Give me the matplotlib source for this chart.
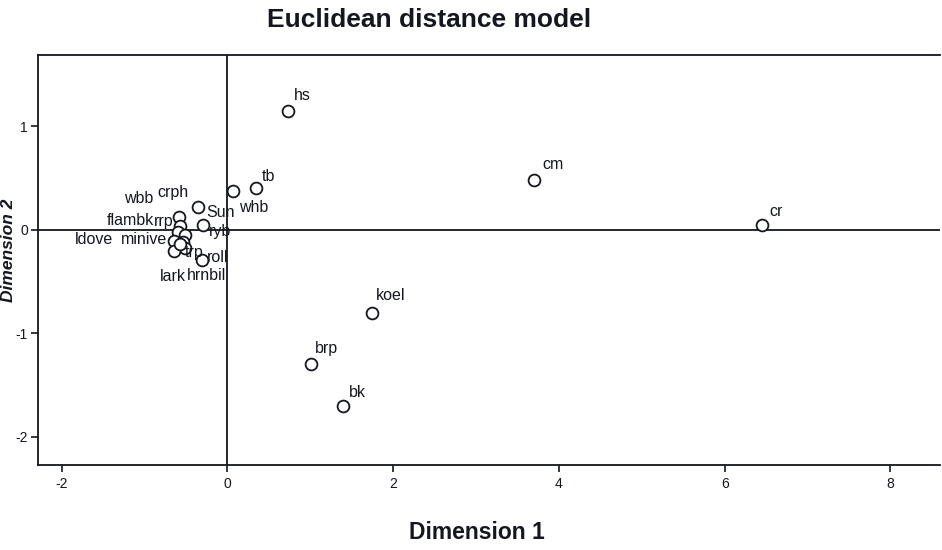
import matplotlib
matplotlib.use("Agg")
import matplotlib.pyplot as plt

# Stimulus coordinates from the Euclidean distance (MDS) model
labels = ["hs", "cm", "cr", "koel", "brp", "bk", "tb", "whb", "Sun", "ryb",
          "roll", "crph", "wbb", "flambk", "rrp", "ldove", "minive", "trp",
          "lark", "hrnbil"]
dim1 = [0.73, 3.70, 6.45, 1.75, 1.01, 1.40, 0.35, 0.07, -0.35, -0.30,
        -0.31, -0.59, -0.57, -0.60, -0.51, -0.64, -0.54, -0.51, -0.65, -0.57]
dim2 = [1.15, 0.48, 0.05, -0.80, -1.30, -1.70, 0.40, 0.38, 0.22, 0.05,
        -0.29, 0.12, 0.04, -0.02, -0.05, -0.11, -0.12, -0.18, -0.20, -0.14]

x_ticks = [-2, 0, 2, 4, 6, 8]
y_ticks = [-2, -1, 0, 1]

# Label placement (pixel offsets from each point) to keep the crowded cluster readable
label_offsets = {
    "hs": (6, 15), "cm": (8, 16), "cr": (7, 13), "koel": (3, 17),
    "brp": (4, 16), "bk": (5, 13), "tb": (5, 12), "whb": (6, -17),
    "Sun": (8, -5), "ryb": (6, -7), "roll": (5, 2), "crph": (-21, 25),
    "wbb": (-56, 27), "flambk": (-71, 11), "rrp": (-31, 14),
    "ldove": (-100, 2), "minive": (-62, 3), "trp": (0, -4),
    "lark": (-14, -26), "hrnbil": (7, -31),
}

ink = "#14171f"
font = "Liberation Sans"

fig = plt.figure(figsize=(9.42, 5.50), dpi=100)
ax = fig.add_axes([0.040, 0.155, 0.958, 0.745])

ax.axhline(0, color=ink, lw=1.3, zorder=1)
ax.axvline(0, color=ink, lw=1.3, zorder=1)

ax.plot(dim1, dim2, linestyle="none", marker="o", markersize=8.5,
        markerfacecolor="white", markeredgecolor=ink, markeredgewidth=1.3,
        zorder=3)

for lab, x, y in zip(labels, dim1, dim2):
    dx, dy = label_offsets[lab]
    ax.annotate(lab, (x, y), xytext=(dx, dy), textcoords="offset pixels",
                ha="left", va="center", fontsize=11.5, color=ink,
                family=font, zorder=4)

ax.set_xlim(-2.29, 8.6)
ax.set_ylim(-2.27, 1.69)
ax.set_xticks(x_ticks)
ax.set_yticks(y_ticks)
ax.set_xticklabels([str(v) for v in x_ticks])
ax.set_yticklabels([str(v) for v in y_ticks])
ax.tick_params(direction="out", length=5, width=1.2, colors=ink,
               labelsize=10, pad=2)
ax.tick_params(axis="x", pad=4)
for lab in ax.get_xticklabels() + ax.get_yticklabels():
    lab.set_family(font)

for side in ["left", "bottom", "top"]:
    ax.spines[side].set_color(ink)
    ax.spines[side].set_linewidth(1.3)
ax.spines["right"].set_visible(False)

fig.text(0.506, 0.031, "Dimension 1", ha="center", va="center",
         fontsize=16.5, fontweight="bold", color=ink, family=font)
fig.text(0.009, 0.545, "Dimension 2", ha="center", va="center",
         rotation=90, fontsize=12.5, fontweight="bold", style="italic",
         color=ink, family=font)
fig.text(0.456, 0.963, "Euclidean distance model", ha="center", va="center",
         fontsize=19, fontweight="bold", color=ink, family=font)

fig.savefig("out.png", dpi=100, facecolor="white")
